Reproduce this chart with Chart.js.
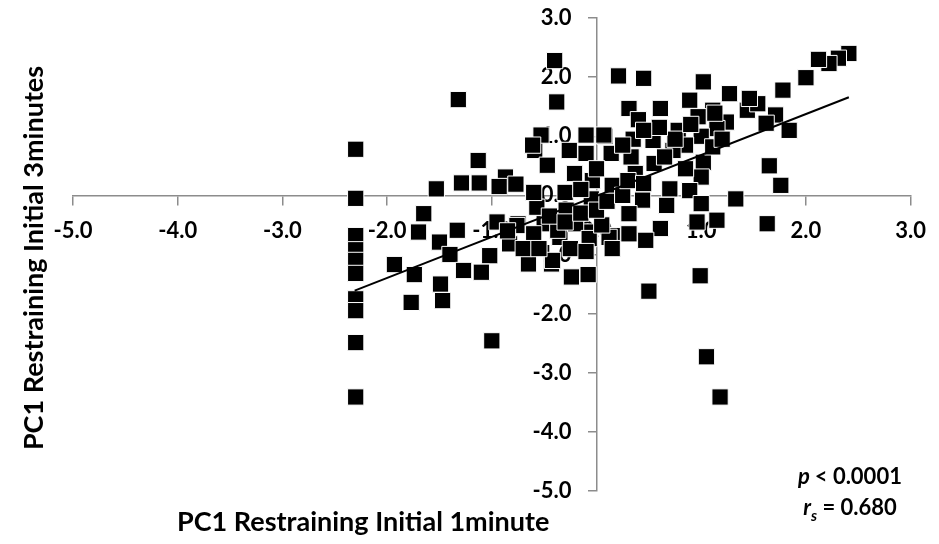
<!DOCTYPE html>
<html>
<head>
<meta charset="utf-8">
<script src="https://cdn.jsdelivr.net/npm/chart.js@4/dist/chart.umd.min.js"></script>
<style>
  html, body { margin: 0; padding: 0; background: #fff; }
  #wrap { width: 939px; height: 544px; }
</style>
</head>
<body>
<div id="wrap"><canvas id="pcChart" width="939" height="544"></canvas></div>
<script>
// PC1 initial 1 minute (x) vs PC1 initial 3 minutes (y)
const pc1Min1 = [
  -2.30, -2.30, -2.30, -2.30, -2.30, -2.30, -2.30, -2.30, -2.30, -2.30,
  -1.13, -1.29, -1.12, -1.53, -1.65, -1.70, -1.33, -1.50, -1.40, -1.93,
  -1.74, -1.27, -1.49, -1.77, -1.47, -1.32, -0.40, -0.38, 0.21, 0.45,
  -0.87, -0.77, -0.93, -0.59, -0.47, -0.53, -0.61, -0.10, 0.08, -0.10,
  0.14, -0.26, -0.21, -0.04, 0.15, -0.05, -0.57, -0.29, -0.95, -0.75,
  -0.50, -0.35, -0.07, 0.15, -0.83, -1.02, -0.65, -0.43, -1.10, -0.24,
  -0.08, -1.00, -0.76, -0.37, -0.20, 0.12, -0.07, -0.42, 1.02, 1.27,
  0.89, 0.61, 0.31, 0.40, 1.11, 0.97, 1.24, 1.15, 0.78, 1.00,
  0.54, 0.85, 0.73, 0.07, 0.33, 0.55, 1.02, 0.37, 1.00, 0.70,
  0.89, 1.33, 1.00, 0.44, 0.67, 0.31, 0.96, 1.15, 0.61, 0.31,
  0.47, 2.41, 2.31, 2.22, 2.12, 2.00, 1.78, 1.71, 1.62, 1.84,
  1.44, 1.54, 1.46, 1.65, 1.76, 1.63, 0.99, 0.50, 1.05, 1.18,
  0.15, 1.11, 1.13, -0.85, -0.60, -0.45, -0.30, -0.15, -0.70, -0.55,
  -0.25, -0.10, 0.05, 0.00, 0.10, -0.30, -0.60, 0.25, 0.30, 0.45,
  0.65, 0.75, 0.90, 0.85, 0.60, 0.35, 0.25, 0.45, 1.20, 0.00, -0.15
];
const pc1Min3 = [
  0.78, -0.05, -0.68, -0.92, -1.10, -1.32, -1.75, -1.95, -2.49, -3.41,
  0.59, 0.21, 0.21, 0.11, -0.31, -0.62, -0.59, -0.79, -1.00, -1.17,
  -1.34, -1.27, -1.50, -1.81, -1.78, 1.62, 2.28, 1.58, 2.02, 1.98,
  0.31, 0.19, 0.15, 0.76, 0.51, 1.02, 0.85, 1.02, 1.00, 0.71,
  0.71, 0.76, 0.37, 0.25, 0.17, -0.06, -0.20, -0.25, -0.45, -0.48,
  -0.48, -0.71, -0.62, -0.68, -0.82, -1.02, -1.16, -1.16, -1.30, -1.38,
  -1.34, -2.46, -0.51, -0.59, -0.48, -0.71, -0.73, -1.10, 1.92, 1.72,
  1.61, 1.47, 1.47, 1.28, 1.44, 1.33, 1.24, 1.13, 1.10, 1.00,
  0.93, 0.85, 0.76, 1.02, 0.65, 0.54, 0.56, 0.37, 0.31, 0.11,
  0.08, -0.06, -0.14, -0.08, -0.17, -0.31, -0.45, -0.42, -0.56, -0.65,
  -0.76, 2.40, 2.32, 2.23, 2.30, 1.99, 1.78, 1.36, 1.22, 1.10,
  1.44, 1.55, 1.64, 0.50, 0.17, -0.48, -1.36, -1.62, -2.73, -3.41,
  -0.90, 0.82, 1.39, -0.60, -0.65, -0.35, -0.45, -0.30, -0.90, -0.90,
  -0.90, -0.95, -0.50, -0.25, -0.10, 0.05, 0.05, 0.00, 0.25, 0.20,
  0.65, 0.95, 1.20, 0.45, 1.15, 0.95, 0.85, 1.10, 0.95, 0.45, 0.10
];

// fitted line end points
const fitX = [-2.31, 2.41];
const fitY = [-1.61, 1.66];

const axisMin = -5;
const axisMax = 3;
const xTitle = 'PC1 Restraining Initial 1minute';
const yTitle = 'PC1 Restraining Initial 3minutes';
const pText = '< 0.0001';
const rText = '= 0.680';

const FONT = 'Lato, "Open Sans", sans-serif';
const AXIS_GREY = '#8c8c8c';

const points = pc1Min1.map((x, i) => ({ x: x, y: pc1Min3[i] }));
const fitLine = fitX.map((x, i) => ({ x: x, y: fitY[i] }));

// y tick labels: chart.js puts them right on a crossing axis, so offset them here
const yLabelsPlugin = {
  id: 'yLabelsPlugin',
  beforeDatasetsDraw(chart) {
    const ctx = chart.ctx;
    const xs = chart.scales.x;
    const ys = chart.scales.y;
    const axisX = xs.getPixelForValue(0);
    ctx.save();
    ctx.fillStyle = '#000';
    ctx.font = 'bold 22px ' + FONT;
    ctx.textAlign = 'right';
    ctx.textBaseline = 'middle';
    ys.ticks.forEach(t => {
      ctx.fillText(Number(t.value).toFixed(1), axisX - 25, ys.getPixelForValue(t.value));
    });
    ctx.restore();
  }
};

// titles and statistics text drawn on top of the plot
const labelsPlugin = {
  id: 'labelsPlugin',
  afterDraw(chart) {
    const ctx = chart.ctx;
    ctx.save();
    ctx.fillStyle = '#000';
    ctx.textBaseline = 'alphabetic';

    // x title
    ctx.font = 'bold 27px ' + FONT;
    ctx.textAlign = 'left';
    ctx.fillText(xTitle, 177, 531);

    // y title, rotated
    ctx.save();
    ctx.translate(34, 258);
    ctx.rotate(-Math.PI / 2);
    ctx.textAlign = 'center';
    ctx.textBaseline = 'middle';
    ctx.fillText(yTitle, 0, 0);
    ctx.restore();

    // p value line
    ctx.textBaseline = 'alphabetic';
    ctx.textAlign = 'left';
    const italic = 'italic bold 22px ' + FONT;
    const bold = 'bold 22px ' + FONT;
    const sub = 'italic bold 15px ' + FONT;
    const cx = 850;

    ctx.font = italic;
    const pW = ctx.measureText('p ').width;
    ctx.font = bold;
    const pRest = ctx.measureText(pText).width;
    let x0 = cx - (pW + pRest) / 2;
    ctx.font = italic;
    ctx.fillText('p ', x0, 484);
    ctx.font = bold;
    ctx.fillText(pText, x0 + pW, 484);

    // r_s line
    ctx.font = italic;
    const rW = ctx.measureText('r').width;
    ctx.font = sub;
    const sW = ctx.measureText('s').width;
    ctx.font = bold;
    const rRest = ctx.measureText(' ' + rText).width;
    x0 = cx - (rW + sW + rRest) / 2;
    ctx.font = italic;
    ctx.fillText('r', x0, 515);
    ctx.font = sub;
    ctx.fillText('s', x0 + rW, 521);
    ctx.font = bold;
    ctx.fillText(' ' + rText, x0 + rW + sW, 515);

    ctx.restore();
  }
};

const tickFont = { family: FONT, size: 22, weight: 'bold' };

new Chart(document.getElementById('pcChart'), {
  type: 'scatter',
  data: {
    datasets: [
      {
        label: 'fit',
        data: fitLine,
        showLine: true,
        borderColor: '#000',
        borderWidth: 2,
        pointRadius: 0,
        fill: false
      },
      {
        label: 'PC1',
        data: points,
        pointStyle: 'rect',
        pointRadius: 11.5,
        backgroundColor: '#000',
        borderColor: '#fff',
        borderWidth: 1,
        clip: false
      }
    ]
  },
  options: {
    responsive: false,
    animation: false,
    devicePixelRatio: 1,
    events: [],
    layout: { padding: { left: 73, right: 22, top: 18, bottom: 53 } },
    plugins: {
      legend: { display: false },
      tooltip: { enabled: false }
    },
    scales: {
      x: {
        type: 'linear',
        min: axisMin,
        max: axisMax,
        position: { y: 0 },
        grid: { drawOnChartArea: false, color: AXIS_GREY, lineWidth: 1.5, tickLength: 9 },
        border: { color: AXIS_GREY, width: 1.5 },
        ticks: {
          stepSize: 1,
          color: '#000',
          font: tickFont,
          padding: 13,
          callback: v => Number(v).toFixed(1)
        }
      },
      y: {
        type: 'linear',
        min: axisMin,
        max: axisMax,
        position: { x: 0 },
        grid: { drawOnChartArea: false, color: AXIS_GREY, lineWidth: 1.5, tickLength: 8 },
        border: { color: AXIS_GREY, width: 1.5 },
        ticks: {
          stepSize: 1,
          display: false
        }
      }
    }
  },
  plugins: [yLabelsPlugin, labelsPlugin]
});
</script>
</body>
</html>
